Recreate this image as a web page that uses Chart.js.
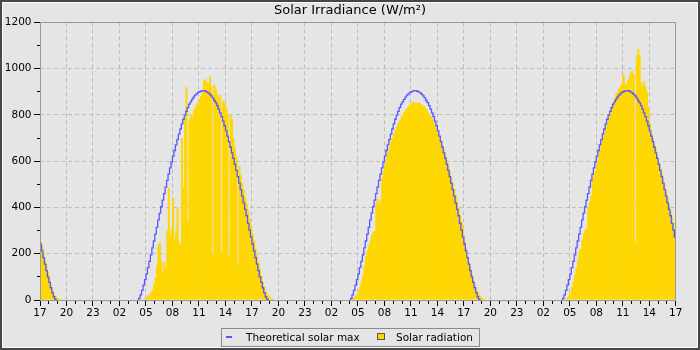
<!DOCTYPE html>
<html>
<head>
<meta charset="utf-8">
<script src="https://cdn.jsdelivr.net/npm/chart.js@4"></script>
<style>
html,body{margin:0;padding:0;background:#e5e5e5;}
#wrap{position:relative;width:700px;height:350px;background:#e5e5e5;overflow:hidden;font-family:"DejaVu Sans",sans-serif;}
#c{position:absolute;left:0;top:0;}
#frame{position:absolute;left:0;top:0;width:700px;height:350px;box-sizing:border-box;border:2px solid #474747;box-shadow:inset 0 0 0 1px #fafafa;pointer-events:none;}
#legend{position:absolute;left:221px;top:328px;width:259px;height:19px;box-sizing:border-box;border:1px solid #8a8a8a;font-size:10.5px;color:#000;}
#legend .t{position:absolute;top:0;line-height:17px;white-space:nowrap;}
#legend .m1{position:absolute;left:4px;top:7px;width:6px;height:1.5px;}
#legend .m2{position:absolute;left:155px;top:4px;width:8px;height:7px;box-sizing:border-box;border:1px solid #555;}
</style>
</head>
<body>
<div id="wrap">
<canvas id="c" width="700" height="350"></canvas>
<div id="legend">
  <span class="m1" id="m1"></span><span class="t" id="t1" style="left:24px"></span>
  <span class="m2" id="m2"></span><span class="t" id="t2" style="left:174px"></span>
</div>
<div id="frame"></div>
</div>
<script>
// ---- tick labels ----
const hourLabels = ['17','20','23','02','05','08','11','14','17','20','23','02','05','08','11','14','17','20','23','02','05','08','11','14','17'];
const yLabelsStep = 200;

// ---- day windows (hours after the first 17:00), 10-minute bins ----
const dayStartHours = [0, 11, 35, 59];

// Solar radiation (W/m²), one value per 10 minutes
const day1Radiation = [
  250, 235, 205, 178, 150, 120,   // 17
  95, 68, 45, 30, 18, 12,         // 18
  8, 5, 0, 0, 0, 0                // 19
];
const day2Radiation = [
  0, 0, 0, 3, 5, 8,               // 04
  12, 18, 25, 35, 45, 70,         // 05
  95, 150, 240, 250, 170, 120,    // 06
  165, 140, 300, 485, 270, 310,   // 07
  440, 260, 300, 400, 250, 240,   // 08
  700, 490, 790, 920, 340, 780,   // 09
  800, 790, 820, 830, 850, 840,   // 10
  870, 880, 905, 950, 955, 940,   // 11
  935, 965, 925, 200, 930, 910,   // 12
  890, 875, 885, 210, 860, 850,   // 13
  830, 805, 190, 800, 780, 700,   // 14
  660, 620, 150, 580, 540, 505,   // 15
  475, 445, 415, 385, 350, 320,   // 16
  290, 260, 225, 195, 165, 135,   // 17
  105, 80, 55, 35, 25, 18,        // 18
  12, 8, 4, 0, 0, 0               // 19
];
const day3Radiation = [
  2, 4, 8, 12, 18, 25,            // 04
  40, 55, 80, 110, 150, 190,      // 05
  215, 235, 255, 280, 295, 300,   // 06
  420, 440, 410, 430, 525, 560,   // 07
  590, 615, 640, 660, 685, 700,   // 08
  720, 735, 750, 765, 775, 790,   // 09
  800, 812, 822, 830, 838, 845,   // 10
  850, 855, 852, 855, 850, 852,   // 11
  848, 845, 840, 835, 825, 815,   // 12
  805, 795, 782, 770, 755, 740,   // 13
  722, 705, 688, 668, 648, 625,   // 14
  605, 580, 555, 530, 505, 480,   // 15
  455, 425, 400, 370, 340, 320,   // 16
  255, 225, 190, 165, 145, 115,   // 17
  85, 65, 45, 35, 25, 15,         // 18
  10, 5, 0, 0, 0, 0               // 19
];
const day4Radiation = [
  0, 2, 4, 8, 12, 20,             // 04
  35, 55, 80, 110, 140, 175,      // 05
  215, 220, 260, 290, 305, 310,   // 06
  400, 425, 450, 520, 545, 560,   // 07
  590, 620, 645, 680, 700, 720,   // 08
  740, 760, 790, 805, 830, 850,   // 09
  870, 890, 900, 915, 925, 935,   // 10
  975, 940, 930, 950, 965, 985,   // 11
  990, 975, 250, 1050, 1085, 1060,// 12
  940, 925, 945, 920, 900, 830,   // 13
  760, 720, 700, 675, 650, 625,   // 14
  600, 575, 550, 525, 500, 470,   // 15
  440, 410, 385, 360, 335, 305    // 16
];

// Theoretical solar max (W/m²), one value per 10 minutes (null = night)
const day1Theoretical = [
  242, 212, 183, 155, 127, 100,
  76, 53, 32, 14, 3, 0,
  null, null, null, null, null, null
];
const day2Theoretical = [
  0, 7, 22, 42, 64, 88,
  113, 140, 167, 195, 225, 255,
  285, 314, 346, 375, 403, 432,
  460, 488, 517, 544, 571, 597,
  622, 646, 670, 693, 717, 739,
  761, 781, 799, 815, 831, 846,
  856, 867, 877, 885, 891, 897,
  900, 903, 905, 905, 902, 899,
  895, 889, 882, 873, 862, 853,
  840, 825, 809, 792, 773, 753,
  731, 708, 684, 660, 636, 612,
  586, 560, 533, 505, 477, 449,
  420, 392, 364, 331, 302, 272,
  242, 212, 183, 155, 127, 100,
  76, 53, 32, 14, 3, 0,
  null, null, null, null, null, null
];
const day3Theoretical = [
  0, 7, 22, 42, 64, 88,
  113, 140, 167, 195, 225, 255,
  285, 314, 346, 375, 403, 432,
  460, 488, 517, 544, 571, 597,
  622, 646, 670, 693, 717, 739,
  761, 781, 799, 815, 831, 846,
  856, 867, 877, 885, 891, 897,
  900, 903, 905, 905, 902, 899,
  895, 889, 882, 873, 862, 853,
  840, 825, 809, 792, 773, 753,
  731, 708, 684, 660, 636, 612,
  586, 560, 533, 505, 477, 449,
  420, 392, 364, 331, 302, 272,
  242, 212, 183, 155, 127, 100,
  76, 53, 32, 14, 3, 0,
  null, null, null, null, null, null
];
const day4Theoretical = [
  0, 7, 22, 42, 64, 88,
  113, 140, 167, 195, 225, 255,
  285, 314, 346, 375, 403, 432,
  460, 488, 517, 544, 571, 597,
  622, 646, 670, 693, 717, 739,
  761, 781, 799, 815, 831, 846,
  856, 867, 877, 885, 891, 897,
  900, 903, 905, 905, 902, 899,
  895, 889, 882, 873, 862, 853,
  840, 825, 809, 792, 773, 753,
  731, 708, 684, 660, 636, 612,
  586, 560, 533, 505, 477, 449,
  420, 392, 364, 331, 302, 272
];

// ---- build series on a 10-minute grid ----
const BINS_PER_HOUR = 6;
const TOTAL_HOURS = 72;
const radiationDays = [day1Radiation, day2Radiation, day3Radiation, day4Radiation];
const theoreticalDays = [day1Theoretical, day2Theoretical, day3Theoretical, day4Theoretical];
const nBins = TOTAL_HOURS * BINS_PER_HOUR;
const radiation = new Array(nBins).fill(0);
const theoretical = new Array(nBins).fill(null);
dayStartHours.forEach((h, d) => {
  const s = h * BINS_PER_HOUR;
  radiationDays[d].forEach((v, i) => { radiation[s + i] = v; });
  theoreticalDays[d].forEach((v, i) => { theoretical[s + i] = v; });
});
const binCenter = i => (i + 0.5) / BINS_PER_HOUR;
const radPoints = radiation.map((v, i) => ({x: binCenter(i), y: v}));
const theoPoints = theoretical.map((v, i) => ({x: binCenter(i), y: v}));

const LINE_COLOR = 'rgb(88,88,255)';
const BAR_COLOR = '#ffd700';
const GRID_COLOR = '#bdbdbd';
const FONT = {family: 'DejaVu Sans', size: 10.5, weight: 'normal'};

const align = v => Math.round(v - 0.5) + 0.5;

const frameAndTicks = {
  id: 'frameAndTicks',
  afterDatasetsDraw(chart) {
    const {ctx, chartArea: {left, right, top, bottom}, scales: {x, y}} = chart;
    const xl = align(left), xr = align(right), yt = align(top), yb = align(bottom);
    ctx.save();
    ctx.lineWidth = 1;
    ctx.strokeStyle = '#999999';
    ctx.beginPath();
    ctx.moveTo(xl, yt); ctx.lineTo(xr, yt); ctx.lineTo(xr, yb); ctx.lineTo(xl, yb); ctx.closePath();
    ctx.stroke();
    ctx.strokeStyle = '#000';
    ctx.beginPath();
    for (let h = 0; h <= TOTAL_HOURS; h++) {
      const px = align(x.getPixelForValue(h));
      const len = (h % 3 === 0) ? 5 : 3;
      ctx.moveTo(px, yb + 0.5); ctx.lineTo(px, yb + 0.5 + len);
    }
    for (let v = 0; v <= 1200; v += 100) {
      const py = align(y.getPixelForValue(v));
      const len = (v % yLabelsStep === 0) ? 6 : 3;
      ctx.moveTo(xl - 0.5, py); ctx.lineTo(xl - 0.5 - len, py);
    }
    ctx.stroke();
    ctx.restore();
  }
};

const chart = new Chart(document.getElementById('c'), {
  type: 'bar',
  data: {
    datasets: [
      {
        type: 'line', label: 'Theoretical solar max', data: theoPoints,
        borderColor: LINE_COLOR, backgroundColor: LINE_COLOR, borderWidth: 1.3,
        pointRadius: 0, stepped: 'middle', spanGaps: false, fill: false, order: 0
      },
      {
        type: 'bar', label: 'Solar radiation', data: radPoints,
        backgroundColor: BAR_COLOR, borderWidth: 0,
        barPercentage: 1.35, categoryPercentage: 1, grouped: false, order: 1
      }
    ]
  },
  options: {
    responsive: false, animation: false,
    layout: {padding: 0},
    plugins: {
      legend: {display: false},
      tooltip: {enabled: false},
      title: {
        display: true, text: 'Solar Irradiance (W/m²)', color: '#000',
        font: {family: 'DejaVu Sans', size: 13, weight: 'normal'},
        padding: {top: 3.2, bottom: 3.5}
      }
    },
    scales: {
      x: {
        type: 'linear', min: 0, max: TOTAL_HOURS, offset: false,
        ticks: {
          stepSize: 1, autoSkip: false, maxRotation: 0, minRotation: 0,
          padding: 7, color: '#000', font: FONT,
          callback: v => (v % 3 === 0 ? hourLabels[v / 3] : '')
        },
        grid: {
          offset: false, drawTicks: false, lineWidth: 1,
          color: c => (c.tick && c.tick.value % 3 === 0 ? GRID_COLOR : 'rgba(0,0,0,0)')
        },
        border: {display: false, dash: [4, 3]},
        afterFit: s => { s.height = 50; }
      },
      y: {
        min: 0, max: 1200,
        ticks: {
          stepSize: 100, autoSkip: false, padding: 8.5, color: '#000', font: FONT,
          callback: v => (v % yLabelsStep === 0 ? String(v) : '')
        },
        grid: {
          drawTicks: false, lineWidth: 1,
          color: c => (c.tick && c.tick.value % yLabelsStep === 0 ? GRID_COLOR : 'rgba(0,0,0,0)')
        },
        border: {display: false, dash: [4, 3]},
        afterFit: s => { s.width = 40; }
      },
      yRight: {
        position: 'right', display: true,
        grid: {display: false}, ticks: {display: false}, border: {display: false},
        afterFit: s => { s.width = 24.2; }
      }
    }
  },
  plugins: [frameAndTicks]
});

// HTML legend built from the datasets
const ds = chart.data.datasets;
document.getElementById('m1').style.background = ds[0].borderColor;
document.getElementById('t1').textContent = ds[0].label;
document.getElementById('m2').style.background = ds[1].backgroundColor;
document.getElementById('t2').textContent = ds[1].label;
</script>
</body>
</html>
